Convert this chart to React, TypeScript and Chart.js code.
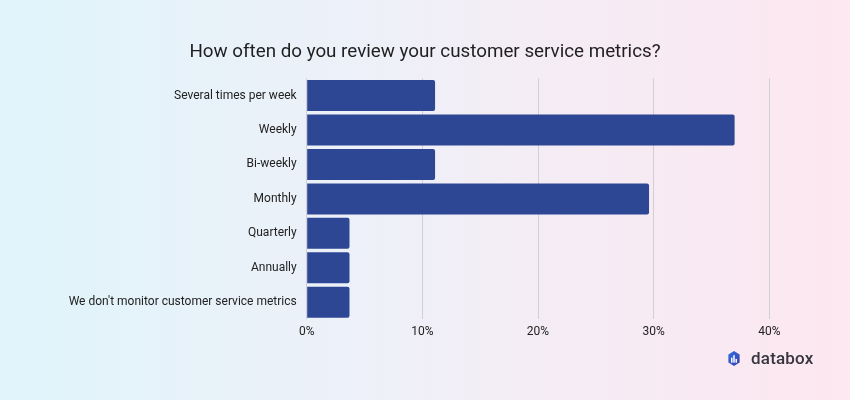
import React, { useEffect, useRef } from "react";
import { Chart, registerables } from "chart.js";

Chart.register(...registerables);

const titleText = "How often do you review your customer service metrics?";
const categories = [
  "Several times per week",
  "Weekly",
  "Bi-weekly",
  "Monthly",
  "Quarterly",
  "Annually",
  "We don't monitor customer service metrics",
];
const values = [11.1, 37.0, 11.1, 29.6, 3.7, 3.7, 3.7];
const xMin = 0;
const xMax = 40;
const xStep = 10;

export default function App() {
  const ref = useRef<HTMLCanvasElement | null>(null);

  useEffect(() => {
    if (!ref.current) return;
    const chart = new Chart(ref.current, {
      type: "bar",
      data: {
        labels: categories,
        datasets: [
          {
            data: values,
            backgroundColor: "#2e4795",
            borderRadius: 2,
            borderSkipped: "start",
            barPercentage: 0.9,
            categoryPercentage: 1,
          },
        ],
      },
      options: {
        indexAxis: "y",
        responsive: false,
        animation: false,
        layout: { padding: { left: 0, right: 0, top: 0, bottom: 0 } },
        plugins: {
          legend: { display: false },
          tooltip: { enabled: false },
          title: {
            display: true,
            text: titleText,
            color: "#1f1f1f",
            font: { family: "Roboto", size: 18.8, weight: "normal", lineHeight: 1.2 },
            padding: { top: 41, bottom: 14.8 },
          },
        },
        scales: {
          x: {
            min: xMin,
            max: xMax,
            ticks: {
              stepSize: xStep,
              color: "#222222",
              font: { family: "Roboto", size: 12 },
              padding: 5,
              callback: (v: any) => `${v}%`,
            },
            grid: { color: "#cfcfd6", drawTicks: false, lineWidth: 1 },
            border: { display: false },
            afterFit: (s: any) => {
              s.height = 80.6;
            },
          },
          y: {
            ticks: {
              color: "#222222",
              font: { family: "Roboto", size: 12 },
              padding: 10,
            },
            grid: { display: false, drawTicks: false },
            border: { display: false },
            afterFit: (s: any) => {
              s.width = 306.7;
            },
          },
          yRight: {
            type: "category",
            position: "right",
            display: true,
            ticks: { display: false },
            grid: { display: false, drawTicks: false },
            border: { display: false },
            afterFit: (s: any) => {
              s.width = 80.7;
            },
          },
        },
      },
    });
    return () => chart.destroy();
  }, []);

  return (
    <div
      style={{
        position: "fixed",
        left: 0,
        top: 0,
        width: 850,
        height: 400,
        background: "linear-gradient(90deg, #e0f4fb 0%, #eef0f8 45%, #f3edf5 60%, #fde7f0 100%)",
        overflow: "hidden",
      }}
    >
      <canvas ref={ref} width={850} height={400} style={{ display: "block" }} />
      <div
        style={{
          position: "absolute",
          left: 728,
          top: 351,
          display: "flex",
          alignItems: "center",
          gap: 11,
        }}
      >
        <svg width="12" height="15" viewBox="0 0 16 18" preserveAspectRatio="none">
          <defs>
            <linearGradient id="lg" x1="0" y1="0" x2="1" y2="1">
              <stop offset="0" stopColor="#2f6fe0" />
              <stop offset="1" stopColor="#3b3fb0" />
            </linearGradient>
          </defs>
          <path d="M8 0 L15.5 4.3 L15.5 13.7 L8 18 L0.5 13.7 L0.5 4.3 Z" fill="url(#lg)" />
          <rect x="4" y="8" width="2" height="6" fill="#fff" />
          <rect x="7" y="5" width="2" height="9" fill="#fff" />
          <rect x="10" y="9.5" width="2" height="4.5" fill="#fff" />
        </svg>
        <span
          style={{
            fontFamily: "Roboto, sans-serif",
            fontSize: 17,
            fontWeight: 500,
            color: "#363640",
            lineHeight: "15px",
            letterSpacing: 0.2,
          }}
        >
          databox
        </span>
      </div>
    </div>
  );
}
